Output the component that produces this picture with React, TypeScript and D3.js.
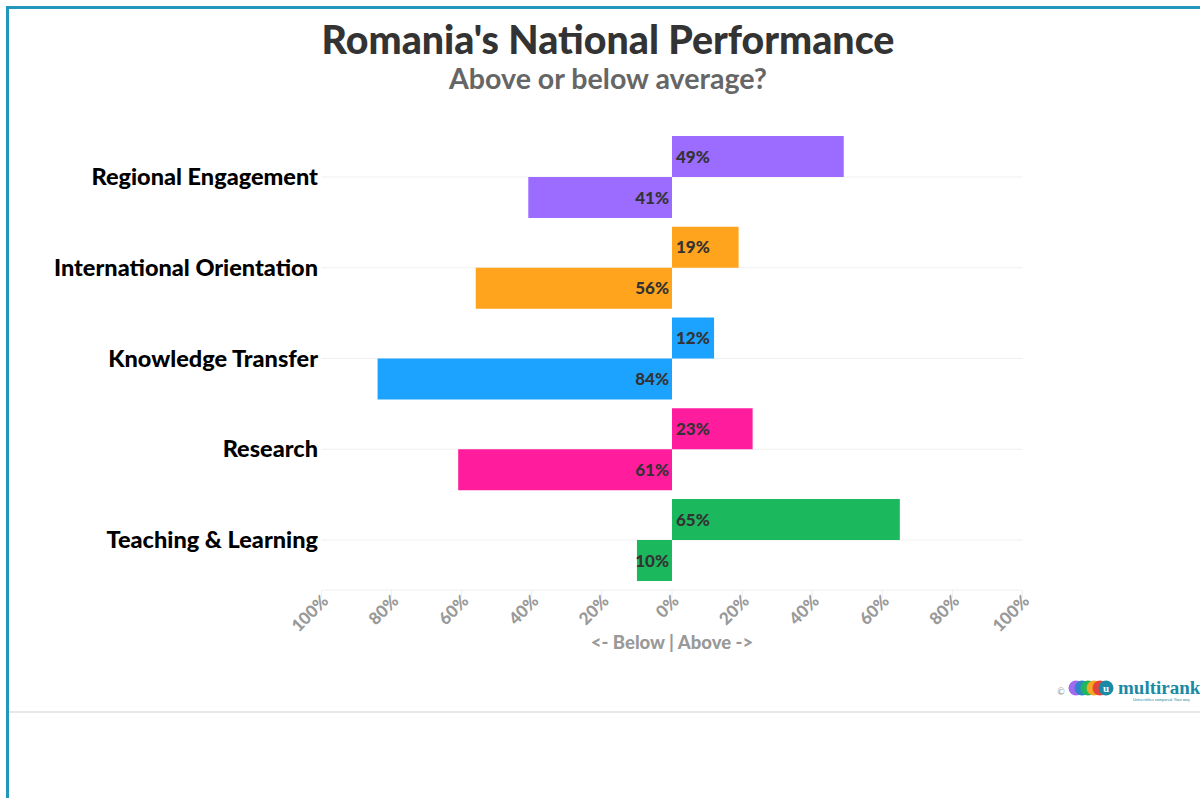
import React from "react";
import * as d3 from "d3";

const categories = ["Regional Engagement", "International Orientation", "Knowledge Transfer", "Research", "Teaching & Learning"];
const aboveValues = [49, 19, 12, 23, 65];
const belowValues = [41, 56, 84, 61, 10];
const colors = ["#9c6bff", "#ffa41c", "#1ca3ff", "#ff1d9e", "#1cb85e"];
const tickValues = [-100, -80, -60, -40, -20, 0, 20, 40, 60, 80, 100];

const W = 1200, H = 798;
const FONT = "Lato, 'Open Sans', sans-serif";

export default function App() {
  const x = d3.scaleLinear().domain([-100, 100]).range([321.5, 1022.5]);
  const y = d3.scalePoint<string>().domain(categories).range([177, 540]);
  const barH = 41;
  const axisY = 590;

  return (
    <svg width={W} height={H} style={{ position: "absolute", left: 0, top: 0, background: "#fff" }}>
      {/* frame */}
      <line x1={6} x2={W} y1={7.5} y2={7.5} stroke="#2396bc" strokeWidth={3} />
      <line x1={7.5} x2={7.5} y1={6} y2={H} stroke="#2396bc" strokeWidth={3} />
      <line x1={9} x2={W} y1={712} y2={712} stroke="#e8e8e8" strokeWidth={2} />

      {/* titles */}
      <text x={608} y={54} textAnchor="middle" fontFamily={FONT} fontWeight={900} fontSize={39.3} fill="#333">Romania's National Performance</text>
      <text x={608} y={89} textAnchor="middle" fontFamily={FONT} fontWeight={700} fontSize={28.6} fill="#666">Above or below average?</text>

      {/* gridlines */}
      {categories.map((c) => (
        <line key={c} x1={x(-100)} x2={x(100)} y1={y(c)!} y2={y(c)!} stroke="#efefef" strokeWidth={1} />
      ))}
      <line x1={x(-100)} x2={x(100)} y1={axisY} y2={axisY} stroke="#efefef" strokeWidth={1} />
      {tickValues.map((t) => (
        <line key={"t" + t} x1={x(t)} x2={x(t)} y1={axisY} y2={axisY + 8} stroke="#efefef" strokeWidth={1} />
      ))}

      {/* bars */}
      {categories.map((c, i) => {
        const yc = y(c)!;
        return (
          <g key={"b" + c}>
            <rect x={x(0)} y={yc - barH} width={x(aboveValues[i]) - x(0)} height={barH} fill={colors[i]} />
            <rect x={x(-belowValues[i])} y={yc} width={x(0) - x(-belowValues[i])} height={barH} fill={colors[i]} />
            <text x={x(0) + 4} y={yc - barH / 2 + 6} fontFamily={FONT} fontWeight={900} fontSize={17} fill="#333">{aboveValues[i]}%</text>
            <text x={x(0) - 3} y={yc + barH / 2 + 6} textAnchor="end" fontFamily={FONT} fontWeight={900} fontSize={17} fill="#333">{belowValues[i]}%</text>
          </g>
        );
      })}

      {/* category labels */}
      {categories.map((c) => (
        <text key={"l" + c} x={318} y={y(c)! + 8} textAnchor="end" fontFamily={FONT} fontWeight={900} fontSize={23.5} fill="#000">{c}</text>
      ))}

      {/* tick labels */}
      {tickValues.map((t) => (
        <text key={"tl" + t} transform={`translate(${x(t) + 8},${axisY + 12}) rotate(-45)`} textAnchor="end" fontFamily={FONT} fontWeight={900} fontSize={17} fill="#999">{Math.abs(t)}%</text>
      ))}

      <text x={x(0)} y={649} textAnchor="middle" fontFamily={FONT} fontWeight={900} fontSize={18.5} fill="#999">&lt;- Below | Above -&gt;</text>

      {/* logo */}
      <g>
        <text x={1061} y={695} textAnchor="middle" fontFamily={FONT} fontSize={9} fill="#999">©</text>
        {["#a06bf0", "#2e86c8", "#1db85e", "#f5a623", "#e8413c", "#1a8aa6"].map((col, i) => (
          <circle key={"c" + i} cx={1076 + i * 6} cy={688} r={7.5} fill={col} />
        ))}
        <text x={1106} y={692} textAnchor="middle" fontFamily="serif" fontWeight={700} fontSize={11} fill="#fff">u</text>
        <text x={1118} y={694} fontFamily="'Liberation Serif', serif" fontWeight={700} fontSize={19} fill="#1a8aa6">multirank</text>
        <text x={1133} y={701} fontFamily={FONT} fontSize={4} fill="#1a8aa6">Universities compared. Your way</text>
      </g>
    </svg>
  );
}
